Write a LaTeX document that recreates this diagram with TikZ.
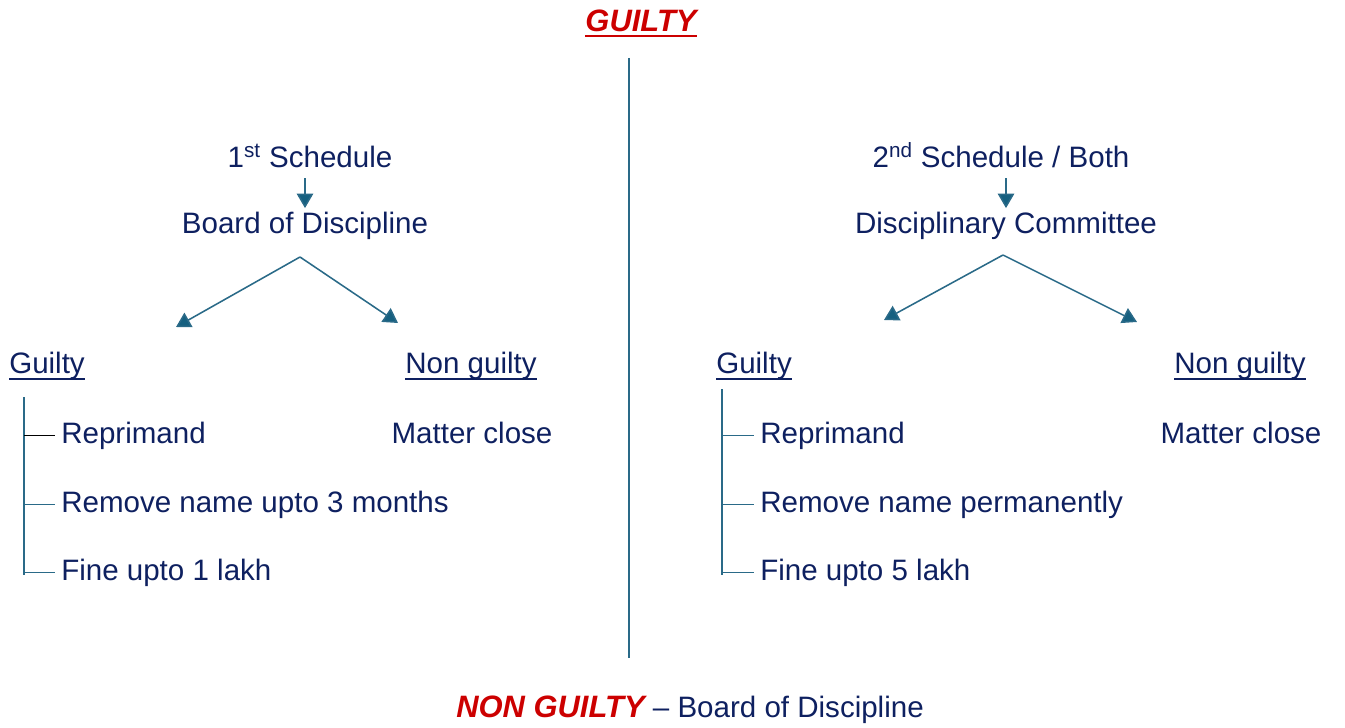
\documentclass[tikz,border=0pt]{standalone}
\usepackage{fontspec}
\setmainfont{Liberation Sans}
\usetikzlibrary{arrows.meta,positioning,calc}
\definecolor{navy}{RGB}{14,32,96}
\definecolor{linecol}{RGB}{42,106,136}
\definecolor{tipcol}{RGB}{22,96,128}
\definecolor{hotred}{RGB}{204,0,0}

\begin{document}
\begin{tikzpicture}[x=0.025cm, y=-0.025cm,
  >={Triangle[width=0.41cm,length=0.36cm,fill=tipcol]},
  txt/.style={text=navy, inner sep=0pt, font=\fontsize{21}{25}\selectfont},
  hot/.style={text=hotred, inner sep=0pt, font=\fontsize{22}{26}\selectfont\bfseries\itshape},
  conn/.style={draw=linecol, line width=1.1pt, ->},
  stem/.style={draw=linecol, line width=1.1pt},
  uline/.style={draw=navy, line width=1.4pt}]
  \useasboundingbox (0,0) rectangle (1345,728);

  % heading and divider
  \node[hot, anchor=base] (top) at (641,32) {GUILTY};
  \draw[draw=hotred, line width=1.9pt] ($(top.base west)+(0,4)$) -- ($(top.base east)+(0,4)$);
  \coordinate (divtop) at (629,58); \coordinate (divbot) at (629,658);
  \draw[stem] (divtop) -- (divbot);

  % left side: first schedule
  \node[txt, anchor=base] (s1) at (310,168) {1\textsuperscript{st} Schedule};
  \node[txt, anchor=base] (b1) at (305,234) {Board of Discipline};
  \draw[conn, shorten <=7pt, shorten >=3pt] (b1.north |- s1.south) -- (b1.north);
  \coordinate (ap1) at (300,257); \coordinate (gt1) at (176,327); \coordinate (nt1) at (398,323);
  \draw[conn] (ap1) -- (gt1); \draw[conn] (ap1) -- (nt1);
  \node[txt, anchor=base west] (g1) at (9,373) {Guilty};
  \node[txt, anchor=base] (n1) at (471,373) {Non guilty};
  \node[txt, anchor=base] (m1) at (472,443) {Matter close};
  \node[txt, anchor=base west] (r1) at (61,443) {Reprimand};
  \node[txt, anchor=base west] (e1) at (61,512) {Remove name upto 3 months};
  \node[txt, anchor=base west] (f1) at (61,580) {Fine upto 1 lakh};
  \coordinate (tr1) at (24,397);
  \draw[stem] (tr1) -- ($(tr1 |- f1.west)+(0,3)$);
  \draw[line width=1.1pt, shorten >=4pt] (tr1 |- r1.west) -- (r1.west);
  \foreach \k in {e1,f1} \draw[stem, shorten >=4pt] (tr1 |- \k.west) -- (\k.west);

  % right side: second schedule
  \node[txt, anchor=base] (s2) at (1001,168) {2\textsuperscript{nd} Schedule / Both};
  \node[txt, anchor=base] (b2) at (1006,234) {Disciplinary Committee};
  \draw[conn, shorten <=7pt, shorten >=3pt] (b2.north |- s2.south) -- (b2.north);
  \coordinate (ap2) at (1003,255); \coordinate (gt2) at (884,320); \coordinate (nt2) at (1137,322);
  \draw[conn] (ap2) -- (gt2); \draw[conn] (ap2) -- (nt2);
  \node[txt, anchor=base west] (g2) at (716,373) {Guilty};
  \node[txt, anchor=base] (n2) at (1240,373) {Non guilty};
  \node[txt, anchor=base] (m2) at (1241,443) {Matter close};
  \node[txt, anchor=base west] (r2) at (760,443) {Reprimand};
  \node[txt, anchor=base west] (e2) at (760,512) {Remove name permanently};
  \node[txt, anchor=base west] (f2) at (760,580) {Fine upto 5 lakh};
  \coordinate (tr2) at (722,389);
  \draw[stem] (tr2) -- ($(tr2 |- f2.west)+(0,3)$);
  \foreach \k in {r2,e2,f2} \draw[stem, shorten >=4pt] (tr2 |- \k.west) -- (\k.west);

  % underlined outcomes
  \foreach \k in {g1,n1,g2,n2}
    \draw[uline] ($(\k.base west)+(0,6)$) -- ($(\k.base east)+(0,6)$);

  % footer
  \node[txt, anchor=base] (foot) at (690,717)
    {{\color{hotred}\fontsize{22}{26}\selectfont\bfseries\itshape NON GUILTY} -- Board of Discipline};
\end{tikzpicture}
\end{document}
